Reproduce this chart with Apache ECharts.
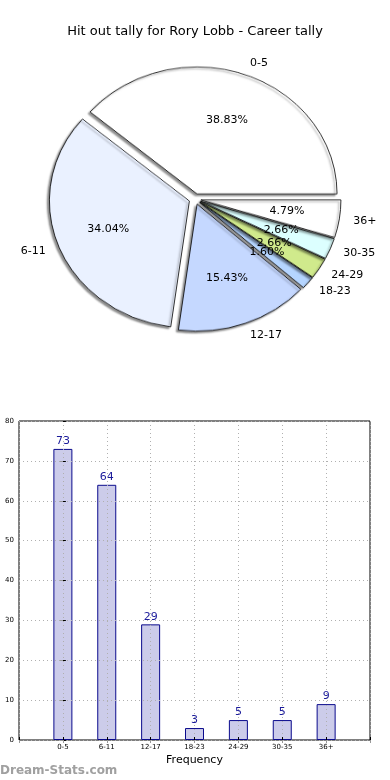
<!DOCTYPE html>
<html>
<head>
<meta charset="utf-8">
<script src="https://cdn.jsdelivr.net/npm/echarts@6/dist/echarts.min.js"></script>
<style>
html,body{margin:0;padding:0;background:#fff;}
#wrap{position:relative;width:390px;height:780px;overflow:hidden;}
#pie{position:absolute;left:0;top:0;width:390px;height:400px;transform:scaleY(0.907);transform-origin:195px 199px;}
#c{position:absolute;left:0;top:0;width:390px;height:780px;}
</style>
</head>
<body>
<div id="wrap"><div id="pie"></div><div id="c"></div></div>
<script>
var titleText = 'Hit out tally for Rory Lobb - Career tally';
var categories = ['0-5', '6-11', '12-17', '18-23', '24-29', '30-35', '36+'];
var values = [73, 64, 29, 3, 5, 5, 9];
var sliceColors = ['#ffffff', '#eaf1ff', '#c5d8ff', '#b5d5ff', '#d0ea8c', '#dcffff', '#ffffff'];
var yTicks = [0, 10, 20, 30, 40, 50, 60, 70, 80];
var xLabel = 'Frequency';
var watermark = 'Dream-Stats.com';

var FONT = 'DejaVu Sans';
var CX = 195, CY = 199, R = 140, OFF = 6, SY = 0.907;
var total = values.reduce(function (a, b) { return a + b; }, 0);

function pieData(styleFn, sel) {
  return categories.map(function (c, i) {
    return { name: c, value: values[i], selected: sel, itemStyle: styleFn(i) };
  });
}
function squashY(params) {
  var r = params.labelRect;
  var mid = r.y + r.height / 2;
  return { y: CY + (mid - CY) * SY, verticalAlign: 'middle' };
}

// Pie wedges (drawn round, then flattened like the reference's unequal-aspect axes)
var pie = echarts.init(document.getElementById('pie'), null, { renderer: 'canvas' });
pie.setOption({
  animation: false,
  series: [{
    type: 'pie', center: [CX, CY], radius: [0, R],
    startAngle: 0, clockwise: false,
    selectedMode: 'multiple', selectedOffset: OFF,
    avoidLabelOverlap: false, silent: true,
    label: { show: false }, labelLine: { show: false },
    emphasis: { disabled: true },
    data: pieData(function (i) {
      return {
        color: sliceColors[i], borderColor: '#000', borderWidth: 0.8,
        shadowColor: 'rgba(0,0,0,0.45)', shadowBlur: 2, shadowOffsetX: -2, shadowOffsetY: 2
      };
    }, true)
  }]
});

var gridLine = { show: true, lineStyle: { color: '#b0b0b0', type: [1, 3], width: 1 } };
var catFormatter = function (v) { return categories[v] !== undefined ? categories[v] : ''; };
var yFormatter = function (v) { return yTicks.indexOf(v) >= 0 ? String(v) : ''; };

var chart = echarts.init(document.getElementById('c'), null, { renderer: 'canvas' });
chart.setOption({
  animation: false,
  backgroundColor: 'transparent',
  textStyle: { fontFamily: FONT },
  title: {
    text: titleText, left: 'center', top: 20,
    textStyle: { fontFamily: FONT, fontSize: 13, fontWeight: 'normal', color: '#000' }
  },
  graphic: [{
    type: 'text', left: 0, top: 765,
    style: { text: watermark, fontFamily: FONT, fontSize: 12, fontWeight: 'bold', fill: '#a0a0a0' }
  }],
  grid: {
    left: 19, right: 20, top: 421, bottom: 40, show: true,
    borderColor: '#000', borderWidth: 1, backgroundColor: '#fff'
  },
  xAxis: [{
    type: 'value', min: -1, max: 7, interval: 1, z: 4,
    name: xLabel, nameLocation: 'middle', nameGap: 15,
    nameTextStyle: { fontFamily: FONT, fontSize: 11, color: '#000' },
    axisLine: { show: false },
    axisTick: { show: true, inside: true, length: 3, lineStyle: { color: '#000' } },
    axisLabel: { fontFamily: FONT, fontSize: 7, color: '#000', margin: 4, formatter: catFormatter },
    splitLine: gridLine
  }, {
    type: 'value', position: 'top', min: -1, max: 7, interval: 1, z: 4,
    axisLine: { show: false },
    axisTick: { show: true, inside: true, length: 3, lineStyle: { color: '#999' } },
    axisLabel: { show: false },
    splitLine: { show: false }
  }],
  yAxis: [{
    type: 'value', min: 0, max: 80, interval: 10, z: 4,
    axisLine: { show: false },
    axisTick: { show: true, inside: true, length: 3, lineStyle: { color: '#000' } },
    axisLabel: { fontFamily: FONT, fontSize: 7, color: '#000', margin: 5, formatter: yFormatter },
    splitLine: gridLine
  }, {
    type: 'value', position: 'right', min: 0, max: 80, interval: 10, z: 4,
    axisLine: { show: false },
    axisTick: { show: true, inside: true, length: 3, lineStyle: { color: '#999' } },
    axisLabel: { show: false },
    splitLine: { show: false }
  }],
  series: [
    {
      type: 'pie', center: [CX, CY], radius: [OFF, R * 1.2 + OFF],
      startAngle: 0, clockwise: false,
      avoidLabelOverlap: false, silent: true,
      label: {
        show: true, position: 'inside',
        formatter: function (p) { return (p.value / total * 100).toFixed(2) + '%'; },
        fontFamily: FONT, fontSize: 11, color: '#000'
      },
      labelLine: { show: false },
      labelLayout: squashY,
      emphasis: { disabled: true },
      data: pieData(function () { return { color: 'rgba(0,0,0,0)', borderWidth: 0 }; }, false)
    },
    {
      type: 'pie', center: [CX, CY], radius: [0, R + OFF],
      startAngle: 0, clockwise: false,
      avoidLabelOverlap: false, silent: true,
      label: {
        show: true, position: 'outside', formatter: '{b}', distanceToLabelLine: 0,
        fontFamily: FONT, fontSize: 11, color: '#000'
      },
      labelLine: { show: false, length: 14, length2: 0 },
      labelLayout: squashY,
      emphasis: { disabled: true },
      data: pieData(function () { return { color: 'rgba(0,0,0,0)', borderWidth: 0 }; }, false)
    },
    {
      type: 'bar', xAxisIndex: 0, yAxisIndex: 0,
      data: values.map(function (v, i) { return [i, v]; }),
      barWidth: 19,
      itemStyle: { color: '#ccccea', borderColor: '#0a0a8c', borderWidth: 1 },
      label: {
        show: true, position: 'top', distance: 2,
        fontFamily: FONT, fontSize: 11, color: '#1a1a9a'
      },
      z: 2
    }
  ]
});
</script>
</body>
</html>
